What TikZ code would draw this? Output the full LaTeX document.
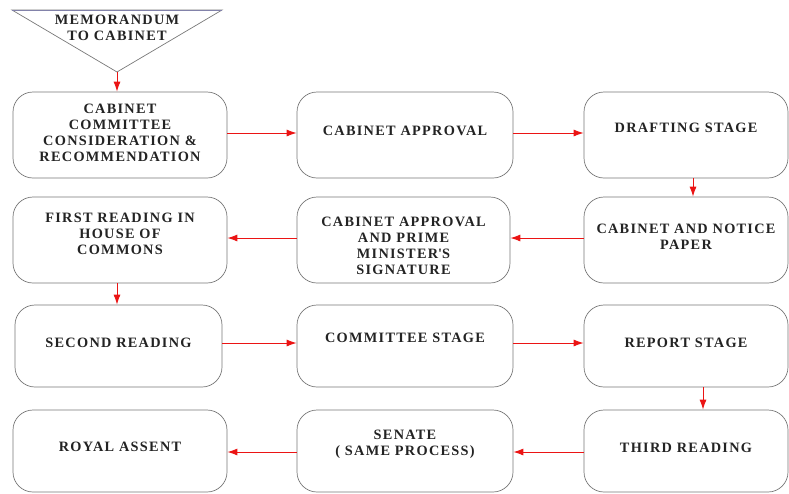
\documentclass[tikz,border=0pt]{standalone}
\usepackage{fontspec}
\setmainfont{Liberation Serif}[LetterSpace=9]
\usetikzlibrary{arrows.meta}
\definecolor{boxgray}{RGB}{120,120,120}
\definecolor{txtgray}{RGB}{35,35,35}
\definecolor{arrred}{RGB}{235,20,20}
\definecolor{topline}{RGB}{130,130,170}
\begin{document}
\begin{tikzpicture}[x=1pt,y=-1pt,
  box/.style={draw=boxgray, line width=0.7pt, rounded corners=20pt, minimum width=214pt, minimum height=86pt, inner sep=0pt},
  txt/.style={align=center, text=txtgray, font=\fontsize{14.3}{15.8}\selectfont\bfseries, inner sep=0pt},
  flow/.style={draw=arrred, line width=1pt, -{Latex[length=10pt,width=7pt]}}]
\useasboundingbox (0,0) rectangle (789,493);
% triangle
\coordinate (t1) at (12,10);
\coordinate (t2) at (222,10);
\coordinate (t3) at (117,72);
\draw[draw=boxgray, line width=0.7pt] (t1) -- (t2) -- (t3) -- cycle;
\draw[draw=topline, line width=1pt] (t1) -- (t2);
\node[txt] (tri) at (117,27.5) {MEMORANDUM\\TO CABINET};
% row 1
\node[box] (A) at (120,135) {};
\node[box, minimum width=216pt] (B) at (405,135) {};
\node[box, minimum width=204pt] (C) at (686,135) {};
% row 2
\node[box] (E) at (120,240) {};
\node[box, minimum width=213pt] (F) at (403.5,240) {};
\node[box, minimum width=204pt] (D) at (686,240) {};
% row 3
\node[box, minimum width=207pt, minimum height=82pt] (S) at (118.5,346) {};
\node[box, minimum width=216pt, minimum height=82pt] (M) at (405,346) {};
\node[box, minimum width=204pt, minimum height=82pt] (R) at (686,346) {};
% row 4
\node[box, minimum height=82pt] (Y) at (120,451) {};
\node[box, minimum width=216pt, minimum height=82pt] (N) at (405,451) {};
\node[box, minimum width=204pt, minimum height=82pt] (T) at (686,451) {};
% texts
\node[txt] (tA) at ([yshift=2pt]A.center) {CABINET\\COMMITTEE\\CONSIDERATION \&\\RECOMMENDATION};
\node[txt] (tB) at ([yshift=4pt]B.center) {CABINET APPROVAL};
\node[txt] (tC) at ([yshift=7pt]C.center) {DRAFTING STAGE};
\node[txt] (tD) at ([yshift=3.5pt]D.center) {CABINET AND NOTICE\\PAPER};
\node[txt] (tE) at ([yshift=6pt]E.center) {FIRST READING IN\\HOUSE OF\\COMMONS};
\node[txt] (tF) at ([yshift=-6pt]F.center) {CABINET APPROVAL\\AND PRIME\\MINISTER\textquotesingle S\\SIGNATURE};
\node[txt] (tS) at ([yshift=3pt]S.center) {SECOND READING};
\node[txt] (tM) at ([yshift=8pt]M.center) {COMMITTEE STAGE};
\node[txt] (tR) at ([yshift=3pt]R.center) {REPORT STAGE};
\node[txt] (tY) at ([yshift=4pt]Y.center) {ROYAL ASSENT};
\node[txt] (tN) at ([yshift=7pt]N.center) {SENATE\\( SAME PROCESS)};
\node[txt] (tT) at ([yshift=3pt]T.center) {THIRD READING};
% connectors
\draw[flow] (t3) -- ([xshift=-3pt]A.north);
\draw[flow] ([yshift=2pt]A.east) -- ([yshift=2pt]B.west);
\draw[flow] ([yshift=2pt]B.east) -- ([yshift=2pt]C.west);
\draw[flow] ([xshift=7pt]C.south) -- ([xshift=7pt]D.north);
\draw[flow] ([yshift=2pt]D.west) -- ([yshift=2pt]F.east);
\draw[flow] ([yshift=2pt]F.west) -- ([yshift=2pt]E.east);
\draw[flow] ([xshift=-3pt]E.south) -- ([xshift=-1.5pt]S.north);
\draw[flow] ([yshift=3pt]S.east) -- ([yshift=3pt]M.west);
\draw[flow] ([yshift=3pt]M.east) -- ([yshift=3pt]R.west);
\draw[flow] ([xshift=17pt]R.south) -- ([xshift=17pt]T.north);
\draw[flow] ([yshift=-1pt]T.west) -- ([yshift=-1pt]N.east);
\draw[flow] ([yshift=-1pt]N.west) -- ([yshift=-1pt]Y.east);
\end{tikzpicture}
\end{document}
